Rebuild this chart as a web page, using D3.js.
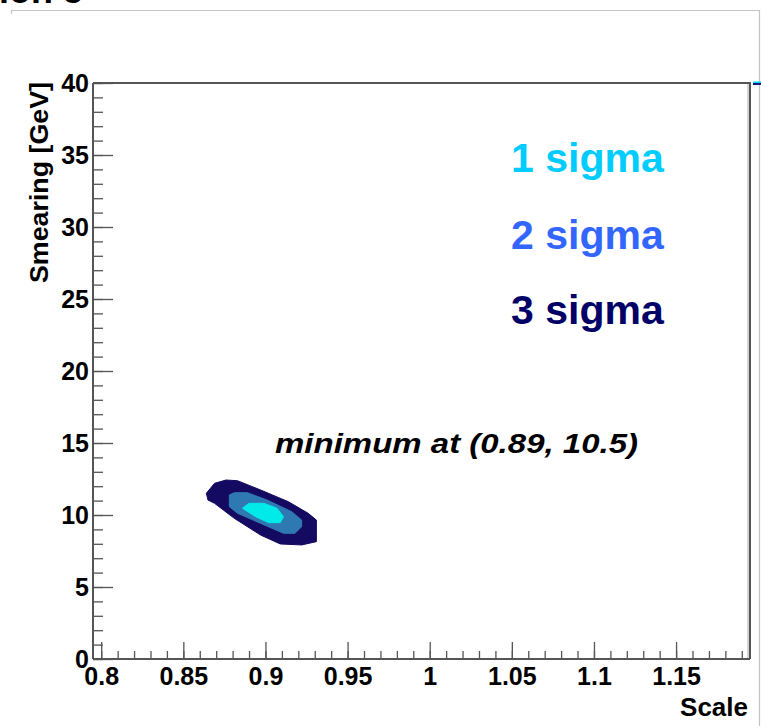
<!DOCTYPE html>
<html>
<head>
<meta charset="utf-8">
<script src="https://cdn.jsdelivr.net/npm/d3@7/dist/d3.min.js"></script>
<style>
  html, body { margin: 0; padding: 0; background: #fff; }
  svg { display: block; }
  text { font-family: "Liberation Sans", Arial, Helvetica, sans-serif; }
</style>
</head>
<body>
<script>
// ---------- data ----------
const xDomain = [0.795, 1.195];
const yDomain = [0, 40];
const xTickValues = [0.8, 0.85, 0.9, 0.95, 1, 1.05, 1.1, 1.15];
const xTickLabels = ["0.8", "0.85", "0.9", "0.95", "1", "1.05", "1.1", "1.15"];
const yTickValues = [0, 5, 10, 15, 20, 25, 30, 35, 40];
const yTickLabels = ["0", "5", "10", "15", "20", "25", "30", "35", "40"];

// contour polygons (Scale, Smearing)
const contour3sigma = [
  [0.864, 11.51], [0.869, 12.20], [0.876, 12.43], [0.883, 12.38], [0.897, 11.74],
  [0.914, 10.92], [0.926, 10.12], [0.931, 9.65], [0.931, 8.15], [0.922, 7.92],
  [0.909, 7.99], [0.897, 8.61], [0.881, 9.77], [0.869, 10.81], [0.865, 11.04]
];
const contour2sigma = [
  [0.878, 11.39], [0.881, 11.55], [0.889, 11.55], [0.901, 11.04], [0.916, 10.23],
  [0.922, 9.65], [0.922, 9.19], [0.918, 8.73], [0.911, 8.73], [0.897, 9.42],
  [0.883, 10.12], [0.878, 10.58]
];
const contour1sigma = [
  [0.886, 10.47], [0.890, 10.81], [0.899, 10.81], [0.907, 10.47],
  [0.911, 9.88], [0.909, 9.47], [0.902, 9.47], [0.894, 9.88]
];
const contourNames = ["3 sigma", "2 sigma", "1 sigma"];
const contourFills = ["#150a62", "#2f79b3", "#00eaea"];
const legendLabels = ["1 sigma", "2 sigma", "3 sigma"];
const legendColors = ["#00ccff", "#3366ff", "#000066"];
const annotation = "minimum at (0.89, 10.5)";

// ---------- drawing ----------
const W = 761, H = 726;
const svg = d3.select("body").append("svg").attr("width", W).attr("height", H);

const x = d3.scaleLinear().domain(xDomain).range([93, 750]);
const y = d3.scaleLinear().domain(yDomain).range([659, 83]);

// outer pad frame (partially visible)
svg.append("path")
  .attr("d", "M11.5,14 V10.5 H759.5 V726")
  .attr("fill", "none").attr("stroke", "#c4c4c4").attr("stroke-width", 1.2);

// cut-off title at top
svg.append("text").attr("x", -1).attr("y", 3)
  .attr("font-size", 36).attr("font-weight", "bold").attr("fill", "#000")
  .text("ion 5");

// palette edge mark at right
svg.append("rect").attr("x", 753).attr("y", 81.5).attr("width", 8).attr("height", 1.5).attr("fill", "#00d8ff");
svg.append("rect").attr("x", 753).attr("y", 83).attr("width", 8).attr("height", 2).attr("fill", "#1a1a80");

// contours
const line = d3.line().x(d => x(d[0])).y(d => y(d[1])).curve(d3.curveLinearClosed);
const contours = [contour3sigma, contour2sigma, contour1sigma];
svg.append("g").selectAll("path").data(contours).join("path")
  .attr("d", line)
  .attr("fill", (d, i) => contourFills[i])
  .attr("stroke", (d, i) => contourFills[i])
  .attr("stroke-width", 1)
  .attr("stroke-linejoin", "round");

// frame top & right
svg.append("path")
  .attr("d", `M${x(xDomain[0])},${y(yDomain[1])} H${x(xDomain[1])} V${y(yDomain[0])}`)
  .attr("fill", "none").attr("stroke", "#555").attr("stroke-width", 2);
svg.append("line")
  .attr("x1", x(xDomain[1]) - 2).attr("x2", x(xDomain[1]) - 2)
  .attr("y1", y(yDomain[1]) + 1).attr("y2", y(yDomain[0]))
  .attr("stroke", "#aaa").attr("stroke-width", 1);

const tickColor = "#555";

// x axis minor
const xMinor = d3.range(80, 120).map(v => v / 100);
svg.append("g").attr("transform", `translate(0,${y(0)})`)
  .call(d3.axisBottom(x).tickValues(xMinor).tickSize(-8).tickFormat(""))
  .call(g => g.select(".domain").remove())
  .call(g => g.selectAll("line").attr("stroke", tickColor).attr("stroke-width", 1.3));
// x axis major
const xAxis = svg.append("g").attr("transform", `translate(0,${y(0)})`)
  .call(d3.axisBottom(x).tickValues(xTickValues).tickSize(-17).tickPadding(8)
    .tickFormat((d, i) => xTickLabels[i]).tickSizeOuter(0));
xAxis.select(".domain").attr("stroke", tickColor).attr("stroke-width", 2)
  .attr("d", `M${x(xDomain[0])},0 H${x(xDomain[1])}`);
xAxis.selectAll("line").attr("stroke", tickColor).attr("stroke-width", 1.3);
xAxis.selectAll("text").attr("font-size", 25).attr("font-weight", "bold")
  .attr("fill", "#000").attr("font-family", "Liberation Sans, Arial, sans-serif");

// y axis minor
const yMinor = d3.range(0, 41);
svg.append("g").attr("transform", `translate(${x(xDomain[0])},0)`)
  .call(d3.axisLeft(y).tickValues(yMinor).tickSize(-10).tickFormat(""))
  .call(g => g.select(".domain").remove())
  .call(g => g.selectAll("line").attr("stroke", tickColor).attr("stroke-width", 1.3));
// y axis major
const yAxis = svg.append("g").attr("transform", `translate(${x(xDomain[0])},0)`)
  .call(d3.axisLeft(y).tickValues(yTickValues).tickSize(-20).tickPadding(4)
    .tickFormat((d, i) => yTickLabels[i]).tickSizeOuter(0));
yAxis.select(".domain").attr("stroke", tickColor).attr("stroke-width", 2)
  .attr("d", `M0,${y(yDomain[0])} V${y(yDomain[1])}`);
yAxis.selectAll("line").attr("stroke", tickColor).attr("stroke-width", 1.3);
yAxis.selectAll("text").attr("font-size", 25).attr("font-weight", "bold")
  .attr("fill", "#000").attr("font-family", "Liberation Sans, Arial, sans-serif");

// axis titles
svg.append("text").attr("x", 748).attr("y", 716)
  .attr("text-anchor", "end").attr("font-size", 26).attr("font-weight", "bold")
  .text("Scale");
svg.append("text")
  .attr("transform", "translate(48,82) rotate(-90)")
  .attr("text-anchor", "end").attr("font-size", 25).attr("font-weight", "bold")
  .attr("textLength", 201).attr("lengthAdjust", "spacingAndGlyphs")
  .text("Smearing [GeV]");

// legend texts
const legendY = [172, 249, 324];
svg.append("g").selectAll("text").data(legendLabels).join("text")
  .attr("x", 511).attr("y", (d, i) => legendY[i])
  .attr("font-size", 41).attr("font-weight", "bold")
  .attr("fill", (d, i) => legendColors[i])
  .text(d => d);

// annotation
svg.append("text").attr("x", 275).attr("y", 453)
  .attr("font-size", 28).attr("font-weight", "bold").attr("font-style", "italic")
  .attr("textLength", 363).attr("lengthAdjust", "spacingAndGlyphs")
  .text(annotation);
</script>
</body>
</html>
